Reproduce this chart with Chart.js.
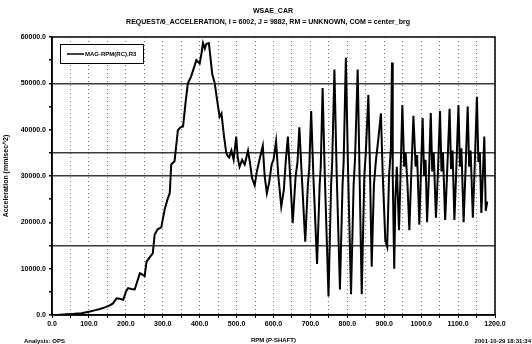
<!DOCTYPE html>
<html>
<head>
<meta charset="utf-8">
<script src="https://cdn.jsdelivr.net/npm/chart.js@4"></script>
<style>
    html, body { margin: 0; padding: 0; background: #fff; }
    #wrap { width: 532px; height: 344px; }
</style>
</head>
<body>
<div id="wrap"><canvas id="chart" width="532" height="344"></canvas></div>
<script>
/* ---- data ---- */
const rpm = [
    0, 20, 40, 60, 80, 100, 115, 130, 145, 157, 165, 175, 183, 193, 200, 206, 215, 224, 232, 238,
    245, 251, 256, 265, 273, 278, 286, 296, 305, 313, 319, 323, 332, 341, 348, 355, 362, 368, 377, 385,
    391, 400, 405, 409, 414, 418, 425, 430, 434, 441, 447, 454, 459, 466, 472, 476,
    480, 486, 492, 499, 503, 508, 515, 522, 531, 536, 542, 549, 555, 562, 571, 576, 582, 588, 595, 600,
    607, 613, 621, 628, 633, 639, 645, 652,
    660, 665, 670, 676, 686, 693, 697, 702, 708, 718, 725, 728, 733, 739, 749, 756, 759, 765, 771, 780,
    787, 790, 796, 802, 810, 817, 821, 828, 833, 839, 846, 850, 857,
    861, 866, 872, 877, 884, 891, 896, 903, 908, 913, 918, 921, 923, 927, 930, 934, 940, 944, 949, 954,
    958, 963, 968, 973, 979, 985, 989, 995, 999, 1004, 1008, 1012, 1016, 1021, 1026, 1030, 1034, 1040,
    1045, 1051, 1055, 1059, 1065, 1070, 1077, 1081, 1085, 1090, 1095, 1101, 1105, 1109, 1115, 1120,
    1126, 1130, 1134, 1140, 1145, 1151, 1155, 1159, 1163, 1167, 1171, 1175, 1179
];
const accel = [
    0, 50, 150, 250, 400, 700, 1000, 1300, 1700, 2100, 2500, 3600, 3500, 3300, 5000, 5800, 5600, 5500, 7500, 9000,
    8700, 8400, 11500, 12500, 13300, 17300, 18500, 18900, 22700, 25000, 26300, 32500, 33200, 39900, 40500, 40700, 46000, 50000, 51500, 53500,
    55000, 54300, 56500, 58700, 57500, 58500, 58700, 55000, 52000, 50000, 46500, 42800, 43500, 38500, 35000, 34300,
    34000, 35500, 33500, 38500, 34000, 32000, 33500, 32500, 35500, 33000, 29500, 28000, 31000, 33500, 36500, 30000, 26300, 28500, 32500, 33500,
    37500, 30000, 23400, 27000, 33000, 38500, 30000, 19800,
    30000, 33000, 40500, 31000, 15800, 28000, 32000, 44000, 30000, 11000, 28000, 32000, 49000, 30000, 4000, 28000, 33000, 53000, 31000, 5500,
    28000, 33000, 55500, 31000, 4500, 28000, 34000, 53000, 31000, 4500, 30000, 35000, 47500,
    33000, 10400, 28000, 33000, 38000, 43500, 30000, 16000, 14700, 30000, 36000, 54500, 30000, 10000, 25000, 32000, 18300, 30000, 45300, 32000,
    35000, 28000, 18300, 30000, 43000, 32000, 34500, 19500, 30000, 42500, 30000, 33500, 20000, 30000, 43600, 31000, 35000, 21000,
    30000, 44000, 31000, 35000, 20500, 30000, 44500, 31500, 35500, 20500, 31000, 45300, 32000, 36000, 20000, 31000,
    45000, 32000, 35500, 21000, 32000, 47100, 33000, 35000, 22000, 30000, 38500, 22500, 24500
];

const xTickStep = 50;
const yTickStep = 5000;
const refLines = [15000, 30000, 35000, 50000];

const seriesLabel = 'MAG-RPM(RC),R3';
const titleText = 'WSAE_CAR';
const subtitleText = 'REQUEST/6_ACCELERATION, I = 6002, J = 9882, RM = UNKNOWN, COM = center_brg';

const FONT = '"Liberation Sans", Arial, sans-serif';

/* ---- frame, titles, legend and footer text ---- */
const decorPlugin = {
    id: 'decor',
    afterDatasetsDraw(chart) {
        const { ctx, chartArea: a } = chart;
        ctx.save();
        ctx.strokeStyle = '#000';
        ctx.lineWidth = 1.5;
        ctx.strokeRect(a.left, a.top, a.right - a.left, a.bottom - a.top);

        // legend box
        ctx.lineWidth = 1;
        ctx.fillStyle = '#fff';
        ctx.fillRect(60, 44, 83, 19);
        ctx.strokeRect(60.5, 44.5, 83, 19);
        ctx.lineWidth = 1.5;
        ctx.beginPath();
        ctx.moveTo(67, 54);
        ctx.lineTo(84, 54);
        ctx.stroke();
        ctx.fillStyle = '#000';
        ctx.font = 'bold 6px ' + FONT;
        ctx.textBaseline = 'middle';
        ctx.textAlign = 'left';
        ctx.fillText(seriesLabel, 85, 54);
        ctx.restore();
    },
    afterDraw(chart) {
        const { ctx } = chart;
        ctx.save();
        ctx.fillStyle = '#000';
        ctx.textBaseline = 'middle';
        ctx.font = 'bold 7px ' + FONT;
        ctx.textAlign = 'center';
        ctx.fillText(titleText, 273, 11);
        ctx.fillText(subtitleText, 268, 22);

        ctx.font = 'bold 6px ' + FONT;
        ctx.textAlign = 'left';
        ctx.fillText('Analysis: OPS', 24, 341);
        ctx.textAlign = 'right';
        ctx.fillText('2001-10-29 18:31:34', 531, 341);
        ctx.restore();
    }
};

const points = rpm.map((r, i) => ({ x: r, y: accel[i] }));

new Chart(document.getElementById('chart'), {
    type: 'line',
    data: {
        datasets: [{
            label: seriesLabel,
            data: points,
            borderColor: '#000',
            borderWidth: 2,
            pointRadius: 0,
            tension: 0,
            fill: false
        }]
    },
    options: {
        responsive: false,
        animation: false,
        layout: { padding: { top: 37, right: 37, left: 0, bottom: 0 } },
        plugins: {
            legend: { display: false },
            title: { display: false },
            tooltip: { enabled: false }
        },
        scales: {
            x: {
                type: 'linear',
                min: 0,
                max: 1200,
                afterFit: (scale) => { scale.height = 29; },
                ticks: {
                    stepSize: xTickStep,
                    autoSkip: false,
                    maxRotation: 0,
                    padding: 2,
                    color: '#000',
                    font: { family: FONT, size: 7, weight: 'bold' },
                    callback: (v) => (v % 100 === 0 ? v.toFixed(1) : '')
                },
                grid: {
                    color: 'rgba(0,0,0,0.55)',
                    lineWidth: 1,
                    tickColor: '#000',
                    tickLength: 3
                },
                border: { display: true, color: '#000', width: 1.5, dash: [1, 3] },
                title: {
                    display: true,
                    text: 'RPM (P-SHAFT)',
                    color: '#000',
                    font: { family: FONT, size: 6, weight: 'bold' },
                    padding: { top: 0, bottom: 0 }
                }
            },
            y: {
                min: 0,
                max: 60000,
                afterFit: (scale) => { scale.width = 52; },
                ticks: {
                    stepSize: yTickStep,
                    autoSkip: false,
                    padding: 3,
                    color: '#000',
                    font: { family: FONT, size: 7, weight: 'bold' },
                    callback: (v) => (v % 10000 === 0 ? v.toFixed(1) : '')
                },
                grid: {
                    color: (ctx) => (ctx.tick && refLines.includes(ctx.tick.value) ? '#3a3a3a' : 'rgba(0,0,0,0)'),
                    lineWidth: 1.5,
                    tickColor: '#000',
                    tickLength: 3
                },
                border: { display: true, color: '#000', width: 1.5 },
                title: {
                    display: true,
                    text: 'Acceleration (mm/sec^2)',
                    color: '#000',
                    font: { family: FONT, size: 7, weight: 'bold' },
                    padding: { top: 2, bottom: 0 }
                }
            }
        }
    },
    plugins: [decorPlugin]
});
</script>
</body>
</html>
